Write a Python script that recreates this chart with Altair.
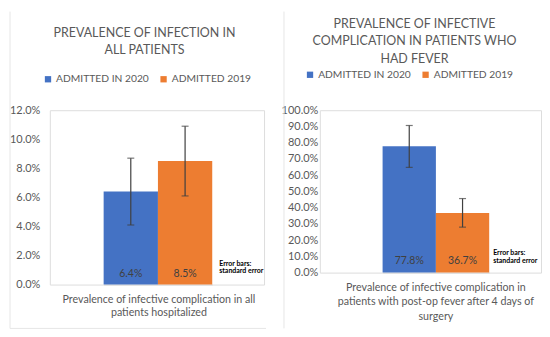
import altair as alt
import pandas as pd

FONT = "Lato"
GRAY = "#595959"

series = ["ADMITTED IN 2020", "ADMITTED 2019"]
colors = ["#4472C4", "#ED7D31"]

# Left panel: all patients
left_title = ["PREVALENCE OF INFECTION IN", "ALL PATIENTS"]
left_category = ["Prevalence of infective complication in all", "patients hospitalized"]
left_values = [0.064, 0.085]
left_lo = [0.041, 0.061]
left_hi = [0.087, 0.109]
left_ticks = [0.0, 0.02, 0.04, 0.06, 0.08, 0.10, 0.12]

# Right panel: patients with fever
right_title = ["PREVALENCE OF INFECTIVE", "COMPLICATION IN PATIENTS WHO", "HAD FEVER"]
right_category = ["Prevalence of infective complication in",
                  "patients with post-op fever after 4 days of", "surgery"]
right_values = [0.778, 0.367]
right_lo = [0.648, 0.280]
right_hi = [0.906, 0.456]
right_ticks = [0.0, 0.1, 0.2, 0.3, 0.4, 0.5, 0.6, 0.7, 0.8, 0.9, 1.0]

note = ["Error bars:", "standard error"]


def panel(title, category, values, lo, hi, ticks, ymax, width, height,
          band_range, label_pad, title_x, title_pos, legend_x, legend_y,
          note_x, note_y, label_dy, border, cat_line_h):
    df = pd.DataFrame({"series": series, "value": values, "lo": lo, "hi": hi,
                       "label": [f"{v*100:.1f}%" for v in values]})
    xscale = alt.Scale(paddingInner=0, paddingOuter=0, range=band_range)
    xaxis = alt.Axis(title=category, labels=False, ticks=False,
                     domainColor="#d9d9d9", domainWidth=1,
                     titleFont=FONT, titleFontSize=10.7, titleColor=GRAY,
                     titleFontWeight="normal", titleLineHeight=cat_line_h,
                     titlePadding=10, titleX=title_x, titleAlign="center")
    yscale = alt.Scale(domain=[0, ymax], nice=False, zero=True)
    yaxis = alt.Axis(title=None, format=".1%", values=ticks, grid=False, domain=False,
                     ticks=False, labelFont=FONT, labelFontSize=11, labelColor=GRAY,
                     labelPadding=label_pad, labelOverlap=False, labelFlush=False)
    base = alt.Chart(df)
    xs = alt.X("series:N", sort=series, scale=xscale, axis=xaxis)

    def yq(f):
        return alt.Y(f, scale=yscale, axis=yaxis)

    bars = base.mark_bar().encode(
        x=xs,
        y=yq("value:Q"),
        color=alt.Color("series:N", sort=series,
                        scale=alt.Scale(domain=series, range=colors),
                        legend=alt.Legend(orient="none", direction="horizontal",
                                          legendX=legend_x, legendY=legend_y,
                                          title=None, symbolType="square",
                                          symbolSize=40, symbolStrokeWidth=0,
                                          labelFont=FONT, labelFontSize=10.3,
                                          labelColor=GRAY, columnPadding=9,
                                          labelOffset=3, padding=0)),
    )
    rules = base.mark_rule(color="#404040", strokeWidth=1.2).encode(
        x=xs, y=yq("lo:Q"), y2="hi:Q")
    cap_lo = base.mark_tick(color="#404040", size=7, thickness=1.2).encode(
        x=xs, y=yq("lo:Q"))
    cap_hi = base.mark_tick(color="#404040", size=7, thickness=1.2).encode(
        x=xs, y=yq("hi:Q"))
    labels = base.mark_text(font=FONT, fontSize=10.5, color="#404040",
                            baseline="middle", dy=label_dy).encode(
        x=xs, y=alt.datum(0, scale=yscale, axis=yaxis), text="label:N")
    one = pd.DataFrame({"a": [0]})
    ttl = alt.Chart(one).mark_text(text=title, font=FONT, fontSize=12.5, color=GRAY,
                                   baseline="middle", align="center",
                                   lineHeight=17.5).encode(
        x=alt.value(title_pos[0]), y=alt.value(title_pos[1]))
    nt = alt.Chart(one).mark_text(text=note, font=FONT, fontSize=7, fontWeight="bold",
                                  color="#000000", baseline="middle", align="left",
                                  lineHeight=7.7).encode(
        x=alt.value(note_x), y=alt.value(note_y))
    layers = [bars, rules, cap_lo, cap_hi, labels, ttl, nt]
    for b in border:
        layers.append(alt.Chart(one).mark_rule(color="#e6e6e6", strokeWidth=1).encode(
            x=alt.value(b[0]), x2=alt.value(b[1]), y=alt.value(b[2]), y2=alt.value(b[3])))
    return alt.layer(*layers).properties(width=width, height=height)


left = panel(left_title, left_category, left_values, left_lo, left_hi, left_ticks,
             0.12, 215, 175, [54, 163], 10, 109, (95, -77.7), -7, -36.5,
             170, 154, -11,
             [(-40, -40, -99, 219), (-40, 217, 219, 219)], 13.3)
right = panel(right_title, right_category, right_values, right_lo, right_hi, right_ticks,
              1.0, 222, 163, [63, 170], 2, 116, (95, -86.8), -15, -41,
              174, 143.5, -12,
              [(-36, -36, -99, 219)], 14.3)

chart = alt.hconcat(left, right, spacing=13).resolve_legend(
    color="independent").properties(
    padding={"left": 0, "top": 2, "right": 0, "bottom": 0}
).configure_view(stroke=None).configure(background="white")

chart.save("out.html", embed_options={"renderer": "svg", "actions": False})
